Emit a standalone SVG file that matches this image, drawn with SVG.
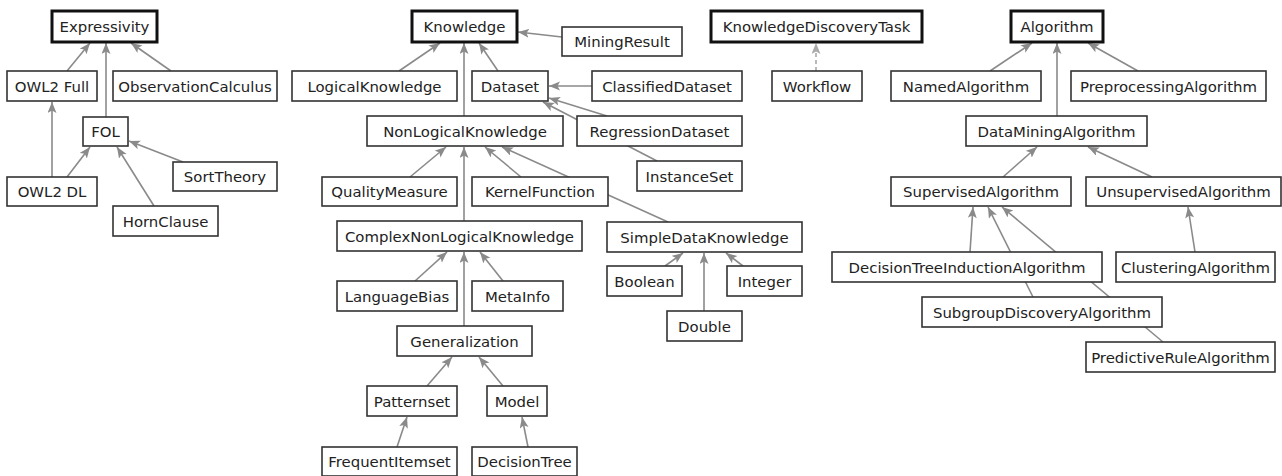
<svg xmlns="http://www.w3.org/2000/svg" width="1282" height="476" viewBox="0 0 1282 476">
<style>
.n rect{fill:#fff;stroke:#333;stroke-width:1.6}
.n.root rect{stroke:#111;stroke-width:3}
.n text{font-family:"DejaVu Sans",sans-serif;font-size:14.9px;fill:#222;text-anchor:middle}
.e line{stroke:#8a8a8a;stroke-width:1.6;marker-end:url(#ah)}
.e line.d{stroke:#aaa;stroke-dasharray:4,3;marker-end:url(#ahd)}
</style>
<defs>
<marker id="ah" markerUnits="userSpaceOnUse" markerWidth="12" markerHeight="10" refX="11" refY="4.5" orient="auto"><path d="M0,0 L11,4.5 L0,9 L2.5,4.5 z" fill="#8a8a8a"/></marker>
<marker id="ahd" markerUnits="userSpaceOnUse" markerWidth="12" markerHeight="10" refX="11" refY="4.5" orient="auto"><path d="M0,0 L11,4.5 L0,9 L2.5,4.5 z" fill="#aaa"/></marker>
</defs>
<rect width="1282" height="476" fill="#fff"/>
<g id="connectors" class="e">
<line x1="67" y1="71" x2="90" y2="43"/>
<line x1="106" y1="117" x2="106" y2="43"/>
<line x1="171" y1="71" x2="131" y2="43"/>
<line x1="52" y1="177" x2="52" y2="102"/>
<line x1="67" y1="177" x2="90" y2="147"/>
<line x1="183" y1="162" x2="129" y2="141"/>
<line x1="154" y1="206" x2="117" y2="147"/>
<line x1="562" y1="37" x2="518" y2="32"/>
<line x1="399" y1="71" x2="440" y2="43"/>
<line x1="464" y1="116" x2="464" y2="43"/>
<line x1="498" y1="71" x2="479" y2="43"/>
<line x1="592" y1="86" x2="549" y2="86"/>
<line x1="607" y1="116" x2="549" y2="98"/>
<line x1="657" y1="161" x2="543" y2="102"/>
<line x1="410" y1="177" x2="446" y2="147"/>
<line x1="464" y1="221" x2="464" y2="147"/>
<line x1="521" y1="177" x2="485" y2="147"/>
<line x1="668" y1="222" x2="502" y2="147"/>
<line x1="415" y1="281" x2="447" y2="252"/>
<line x1="464" y1="326" x2="464" y2="252"/>
<line x1="503" y1="281" x2="480" y2="252"/>
<line x1="427" y1="386" x2="452" y2="357"/>
<line x1="503" y1="386" x2="479" y2="357"/>
<line x1="397" y1="447" x2="407" y2="417"/>
<line x1="528" y1="447" x2="522" y2="417"/>
<line x1="665" y1="266" x2="683" y2="253"/>
<line x1="704" y1="311" x2="704" y2="253"/>
<line x1="743" y1="266" x2="726" y2="253"/>
<line class="d" x1="816" y1="71" x2="816" y2="43"/>
<line x1="990" y1="71" x2="1032" y2="43"/>
<line x1="1057" y1="116" x2="1057" y2="43"/>
<line x1="1138" y1="71" x2="1088" y2="43"/>
<line x1="1003" y1="177" x2="1037" y2="147"/>
<line x1="1152" y1="177" x2="1088" y2="147"/>
<line x1="970" y1="252" x2="973" y2="207"/>
<line x1="1033" y1="297" x2="988" y2="207"/>
<line x1="1163" y1="342" x2="1002" y2="207"/>
<line x1="1195" y1="252" x2="1188" y2="207"/>
</g>
<g id="Expressivity" class="n root"><rect x="52" y="11" width="105" height="31"/><text x="104.5" y="31.5">Expressivity</text></g>
<g id="OWL2Full" class="n"><rect x="7" y="71" width="90" height="30"/><text x="52" y="91.5">OWL2 Full</text></g>
<g id="ObservationCalculus" class="n"><rect x="113" y="71" width="164" height="30"/><text x="195" y="91.5">ObservationCalculus</text></g>
<g id="FOL" class="n"><rect x="83" y="117" width="45" height="29"/><text x="105.5" y="136.5">FOL</text></g>
<g id="SortTheory" class="n"><rect x="173" y="162" width="104" height="29"/><text x="225" y="181.5">SortTheory</text></g>
<g id="OWL2DL" class="n"><rect x="7" y="177" width="90" height="29"/><text x="52" y="196.5">OWL2 DL</text></g>
<g id="HornClause" class="n"><rect x="113" y="206" width="105" height="30"/><text x="165.5" y="226.5">HornClause</text></g>
<g id="Knowledge" class="n root"><rect x="412" y="11" width="105" height="31"/><text x="464.5" y="31.5">Knowledge</text></g>
<g id="MiningResult" class="n"><rect x="562" y="27" width="120" height="29"/><text x="622" y="46.5">MiningResult</text></g>
<g id="LogicalKnowledge" class="n"><rect x="292" y="71" width="165" height="30"/><text x="374.5" y="91.5">LogicalKnowledge</text></g>
<g id="Dataset" class="n"><rect x="472" y="71" width="76" height="30"/><text x="510" y="91.5">Dataset</text></g>
<g id="ClassifiedDataset" class="n"><rect x="592" y="71" width="150" height="30"/><text x="667" y="91.5">ClassifiedDataset</text></g>
<g id="NonLogicalKnowledge" class="n"><rect x="367" y="116" width="196" height="30"/><text x="465" y="136.5">NonLogicalKnowledge</text></g>
<g id="RegressionDataset" class="n"><rect x="577" y="116" width="165" height="30"/><text x="659.5" y="136.5">RegressionDataset</text></g>
<g id="InstanceSet" class="n"><rect x="637" y="161" width="105" height="30"/><text x="689.5" y="181.5">InstanceSet</text></g>
<g id="QualityMeasure" class="n"><rect x="322" y="177" width="135" height="29"/><text x="389.5" y="196.5">QualityMeasure</text></g>
<g id="KernelFunction" class="n"><rect x="472" y="177" width="136" height="29"/><text x="540" y="196.5">KernelFunction</text></g>
<g id="ComplexNonLogicalKnowledge" class="n"><rect x="337" y="221" width="245" height="30"/><text x="459.5" y="241.5">ComplexNonLogicalKnowledge</text></g>
<g id="SimpleDataKnowledge" class="n"><rect x="607" y="222" width="195" height="30"/><text x="704.5" y="242.5">SimpleDataKnowledge</text></g>
<g id="LanguageBias" class="n"><rect x="337" y="281" width="120" height="30"/><text x="397" y="301.5">LanguageBias</text></g>
<g id="MetaInfo" class="n"><rect x="472" y="281" width="91" height="30"/><text x="517.5" y="301.5">MetaInfo</text></g>
<g id="Boolean" class="n"><rect x="607" y="266" width="75" height="30"/><text x="644.5" y="286.5">Boolean</text></g>
<g id="Integer" class="n"><rect x="727" y="266" width="75" height="30"/><text x="764.5" y="286.5">Integer</text></g>
<g id="Double" class="n"><rect x="667" y="311" width="75" height="30"/><text x="704.5" y="331.5">Double</text></g>
<g id="Generalization" class="n"><rect x="397" y="326" width="135" height="30"/><text x="464.5" y="346.5">Generalization</text></g>
<g id="Patternset" class="n"><rect x="367" y="386" width="90" height="30"/><text x="412" y="406.5">Patternset</text></g>
<g id="Model" class="n"><rect x="487" y="386" width="60" height="30"/><text x="517" y="406.5">Model</text></g>
<g id="FrequentItemset" class="n"><rect x="322" y="447" width="135" height="29"/><text x="389.5" y="466.5">FrequentItemset</text></g>
<g id="DecisionTree" class="n"><rect x="472" y="447" width="105" height="29"/><text x="524.5" y="466.5">DecisionTree</text></g>
<g id="KnowledgeDiscoveryTask" class="n root"><rect x="711" y="11" width="211" height="31"/><text x="816.5" y="31.5">KnowledgeDiscoveryTask</text></g>
<g id="Workflow" class="n"><rect x="772" y="71" width="90" height="30"/><text x="817" y="91.5">Workflow</text></g>
<g id="Algorithm" class="n root"><rect x="1011" y="11" width="92" height="31"/><text x="1057" y="31.5">Algorithm</text></g>
<g id="NamedAlgorithm" class="n"><rect x="891" y="71" width="150" height="30"/><text x="966" y="91.5">NamedAlgorithm</text></g>
<g id="PreprocessingAlgorithm" class="n"><rect x="1071" y="71" width="195" height="30"/><text x="1168.5" y="91.5">PreprocessingAlgorithm</text></g>
<g id="DataMiningAlgorithm" class="n"><rect x="966" y="116" width="181" height="30"/><text x="1056.5" y="136.5">DataMiningAlgorithm</text></g>
<g id="SupervisedAlgorithm" class="n"><rect x="891" y="177" width="180" height="29"/><text x="981" y="196.5">SupervisedAlgorithm</text></g>
<g id="UnsupervisedAlgorithm" class="n"><rect x="1086" y="177" width="195" height="29"/><text x="1183.5" y="196.5">UnsupervisedAlgorithm</text></g>
<g id="DecisionTreeInductionAlgorithm" class="n"><rect x="832" y="252" width="270" height="30"/><text x="967" y="272.5">DecisionTreeInductionAlgorithm</text></g>
<g id="ClusteringAlgorithm" class="n"><rect x="1116" y="252" width="159" height="30"/><text x="1195.5" y="272.5">ClusteringAlgorithm</text></g>
<g id="SubgroupDiscoveryAlgorithm" class="n"><rect x="922" y="297" width="240" height="30"/><text x="1042" y="317.5">SubgroupDiscoveryAlgorithm</text></g>
<g id="PredictiveRuleAlgorithm" class="n"><rect x="1086" y="342" width="189" height="30"/><text x="1180.5" y="362.5">PredictiveRuleAlgorithm</text></g>
</svg>
